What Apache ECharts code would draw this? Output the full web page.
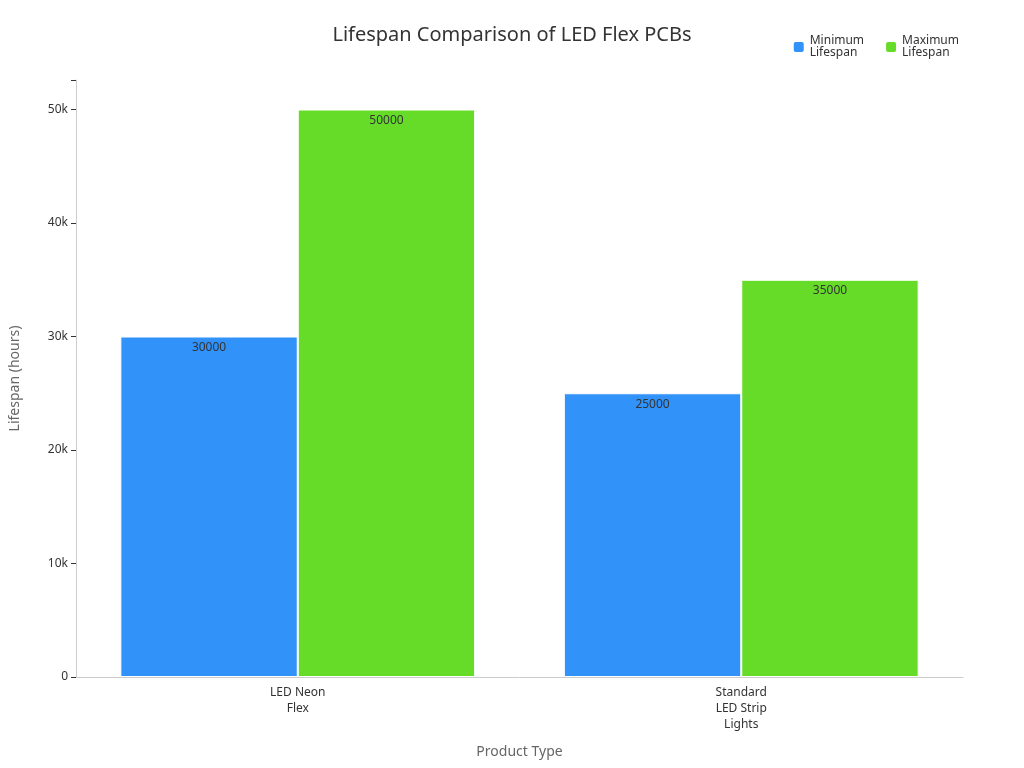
<!DOCTYPE html>
<html><head><meta charset="utf-8">
<script src="https://cdn.jsdelivr.net/npm/echarts@6/dist/echarts.min.js"></script>
<style>html,body{margin:0;background:#fff}#c{width:1024px;height:768px}</style>
</head><body><div id="c"></div>
<script>
// values
const categories = ['LED Neon\nFlex', 'Standard\nLED Strip\nLights'];
const minLifespan = [30000, 25000];
const maxLifespan = [50000, 35000];
const seriesNames = ['Minimum\nLifespan', 'Maximum\nLifespan'];

const font = '"Noto Sans", "DejaVu Sans", sans-serif';
const label = { show: true, position: 'insideTop', color: '#333', fontSize: 12, fontFamily: font, offset: [0, 0] };

const chart = echarts.init(document.getElementById('c'));
chart.setOption({
  animation: false,
  textStyle: { fontFamily: font },
  title: { text: 'Lifespan Comparison of LED Flex PCBs', left: 'center', top: 20,
    textStyle: { fontSize: 20, fontWeight: 'normal', color: '#333', fontFamily: font } },
  legend: { right: 60, top: 30, itemWidth: 12, itemHeight: 12, itemGap: 20,
    textStyle: { fontSize: 12, color: '#333' } },
  grid: { left: 67, right: 61, top: 80, bottom: 91 },
  xAxis: { type: 'category', data: categories, name: 'Product Type', nameLocation: 'middle', nameGap: 68,
    nameTextStyle: { fontSize: 14, color: '#666' },
    axisLine: { lineStyle: { color: '#ccc' } }, axisTick: { alignWithLabel: true, lineStyle: { color: '#333' } },
    axisLabel: { color: '#333', fontSize: 12, lineHeight: 16 } },
  yAxis: { type: 'value', min: 0, max: 52600, interval: 10000, name: 'Lifespan (hours)', nameLocation: 'middle', nameGap: 54,
    nameTextStyle: { fontSize: 14, color: '#666' },
    axisLine: { show: true, lineStyle: { color: '#ccc' } }, axisTick: { show: true, lineStyle: { color: '#333' } },
    splitLine: { show: false },
    axisLabel: { color: '#333', fontSize: 12, formatter: v => v % 10000 ? '' : (v ? v / 1000 + 'k' : '0') } },
  series: [
    { name: seriesNames[0], type: 'bar', data: minLifespan, barWidth: '40%', barGap: '0%',
      itemStyle: { color: '#3192F9', borderColor: '#fff', borderWidth: 1 }, label },
    { name: seriesNames[1], type: 'bar', data: maxLifespan, barWidth: '40%',
      itemStyle: { color: '#66DB28', borderColor: '#fff', borderWidth: 1 }, label }
  ]
});
</script></body></html>
